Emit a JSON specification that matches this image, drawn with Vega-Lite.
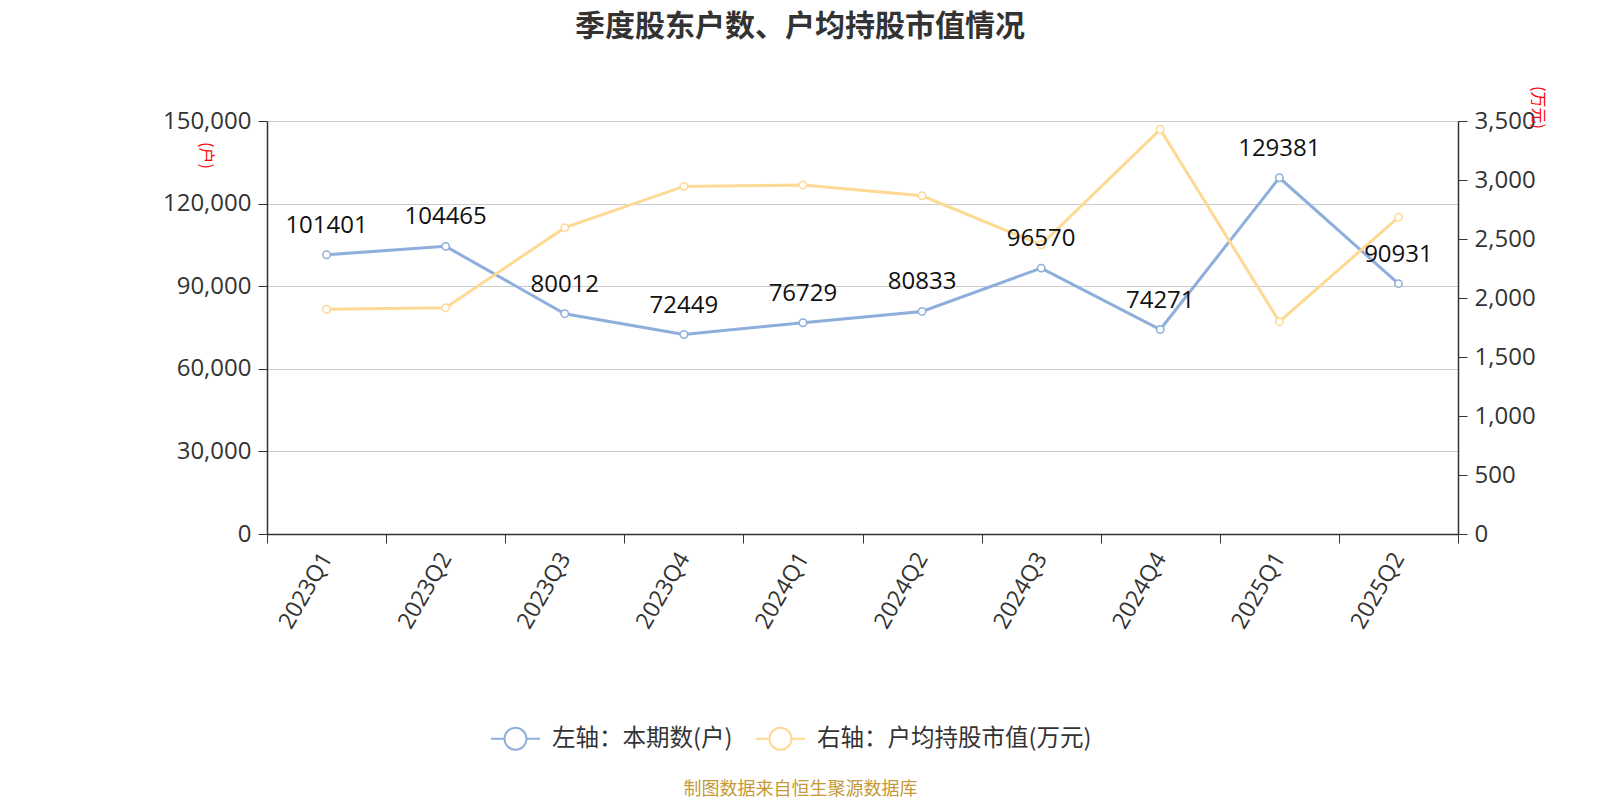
{
  "$schema": "https://vega.github.io/schema/vega-lite/v6.json",
  "width": 1191,
  "height": 413,
  "autosize": {"type": "none"},
  "padding": {"left": 267, "top": 121, "right": 142, "bottom": 266},
  "background": "white",
  "title": {
    "text": "季度股东户数、户均持股市值情况",
    "font": "Noto Sans CJK SC",
    "fontSize": 30,
    "fontWeight": "bold",
    "color": "#333333",
    "anchor": "middle",
    "dx": -62.5,
    "offset": 20,
    "baseline": "alphabetic"
  },
  "config": {
    "view": {"stroke": null},
    "font": "Open Sans"
  },
  "data": {
    "values": [
      {"quarter": "2023Q1", "holders": 101401, "value": 1904},
      {"quarter": "2023Q2", "holders": 104465, "value": 1918},
      {"quarter": "2023Q3", "holders": 80012, "value": 2596},
      {"quarter": "2023Q4", "holders": 72449, "value": 2946},
      {"quarter": "2024Q1", "holders": 76729, "value": 2958},
      {"quarter": "2024Q2", "holders": 80833, "value": 2866},
      {"quarter": "2024Q3", "holders": 96570, "value": 2451},
      {"quarter": "2024Q4", "holders": 74271, "value": 3429},
      {"quarter": "2025Q1", "holders": 129381, "value": 1799},
      {"quarter": "2025Q2", "holders": 90931, "value": 2684}
    ]
  },
  "encoding": {
    "x": {
      "field": "quarter",
      "type": "ordinal",
      "sort": null,
      "bandPosition": 0.5,
      "scale": {"type": "band", "paddingInner": 0, "paddingOuter": 0},
      "axis": {
        "title": "制图数据来自恒生聚源数据库",
        "titleFont": "Noto Sans CJK SC",
        "titleFontSize": 18,
        "titleFontWeight": "normal",
        "titleColor": "#C49A36",
        "titleX": 533,
        "titleY": 255,
        "titleAlign": "center",
        "titleBaseline": "middle",
        "titleAngle": 0,
        "labelAngle": -60,
        "labelAlign": "right",
        "labelBaseline": "middle",
        "labelFontSize": 23,
        "labelColor": "#333333",
        "labelPadding": 11,
        "tickBand": "extent",
        "tickSize": 9,
        "tickColor": "#333333",
        "domainColor": "#333333",
        "domainWidth": 1.5,
        "grid": false
      }
    }
  },
  "layer": [
    {
      "encoding": {
        "y": {
          "field": "holders",
          "type": "quantitative",
          "scale": {"domain": [0, 150000], "nice": false},
          "axis": {
            "orient": "left",
            "values": [0, 30000, 60000, 90000, 120000, 150000],
            "format": ",d",
            "labelFontSize": 24,
            "labelColor": "#333333",
            "labelPadding": 7,
            "tickSize": 9,
            "tickColor": "#333333",
            "domainColor": "#333333",
            "domainWidth": 1.5,
            "grid": true,
            "gridColor": "#cccccc",
            "gridWidth": 1,
            "title": "(户)",
            "titleFont": "Noto Sans CJK SC",
            "titleFontSize": 16,
            "titleFontWeight": "normal",
            "titleColor": "#ff0000",
            "titleAngle": 90,
            "titleX": -62,
            "titleY": 34,
            "titleAlign": "center",
            "titleBaseline": "middle"
          }
        }
      },
      "layer": [
        {
          "mark": {"type": "line", "strokeWidth": 3},
          "encoding": {
            "color": {
              "datum": "左轴：本期数(户)",
              "type": "nominal",
              "scale": {
                "domain": ["左轴：本期数(户)", "右轴：户均持股市值(万元)"],
                "range": ["#8EAEDB", "#FED993"]
              },
              "legend": {
                "orient": "none",
                "legendX": 223,
                "legendY": 592,
                "direction": "horizontal",
                "title": null,
                "symbolType": "M-1,0L-0.449,0M0.449,0L1,0M0.449,0A0.449,0.449,0,1,1,-0.449,0A0.449,0.449,0,1,1,0.449,0",
                "symbolSize": 2401,
                "symbolStrokeWidth": 2,
                "symbolFillColor": "white",
                "labelFont": "Noto Sans CJK SC",
                "labelFontSize": 23.5,
                "labelColor": "#333333",
                "labelOffset": 11,
                "labelLimit": 500,
                "columnPadding": 19
              }
            }
          }
        },
        {
          "mark": {"type": "point", "shape": "circle", "filled": true, "fill": "white", "stroke": "#8EAEDB", "strokeWidth": 1.5, "size": 55, "opacity": 1}
        }
      ]
    },
    {
      "encoding": {
        "y": {
          "field": "value",
          "type": "quantitative",
          "scale": {"domain": [0, 3500], "nice": false},
          "axis": {
            "orient": "right",
            "values": [0, 500, 1000, 1500, 2000, 2500, 3000, 3500],
            "format": ",d",
            "labelFontSize": 24,
            "labelColor": "#333333",
            "labelPadding": 7,
            "tickSize": 9,
            "tickColor": "#333333",
            "domainColor": "#333333",
            "domainWidth": 1.5,
            "grid": false,
            "title": "(万元)",
            "titleFont": "Noto Sans CJK SC",
            "titleFontSize": 16,
            "titleFontWeight": "normal",
            "titleColor": "#ff0000",
            "titleAngle": 90,
            "titleX": 79,
            "titleY": -14,
            "titleAlign": "center",
            "titleBaseline": "middle"
          }
        }
      },
      "layer": [
        {
          "mark": {"type": "line", "strokeWidth": 3},
          "encoding": {
            "color": {"datum": "右轴：户均持股市值(万元)", "type": "nominal"}
          }
        },
        {
          "mark": {"type": "point", "shape": "circle", "filled": true, "fill": "white", "stroke": "#FED993", "strokeWidth": 1.5, "size": 55, "opacity": 1}
        }
      ]
    },
    {
      "mark": {"type": "text", "dy": -29, "fontSize": 24, "color": "#111111", "font": "Open Sans"},
      "encoding": {
        "y": {"field": "holders", "type": "quantitative", "scale": {"domain": [0, 150000], "nice": false}, "axis": null},
        "text": {"field": "holders", "type": "quantitative", "format": "d"}
      }
    }
  ],
  "resolve": {"scale": {"y": "independent"}}
}
